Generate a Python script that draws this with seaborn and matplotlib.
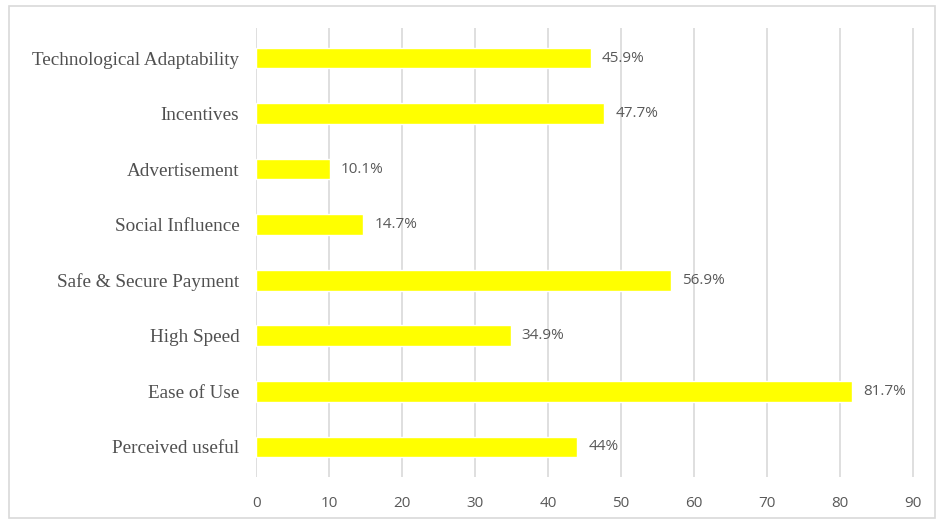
import matplotlib
matplotlib.use("Agg")
import matplotlib.pyplot as plt
import seaborn as sns
import pandas as pd
from matplotlib.patches import Rectangle

categories = ["Technological Adaptability", "Incentives", "Advertisement", "Social Influence",
              "Safe & Secure Payment", "High Speed", "Ease of Use", "Perceived useful"]
values = [45.9, 47.7, 10.1, 14.7, 56.9, 34.9, 81.7, 44]
value_labels = ["45.9%", "47.7%", "10.1%", "14.7%", "56.9%", "34.9%", "81.7%", "44%"]
xticks = [0, 10, 20, 30, 40, 50, 60, 70, 80, 90]

df = pd.DataFrame({"cat": categories, "val": values})

sns.set_style("white")
fig = plt.figure(figsize=(9.38, 5.2), dpi=100)
ax = fig.add_axes([0.273, 0.083, 0.701, 0.863])

sns.barplot(data=df, x="val", y="cat", orient="h", color="#FFFF00", saturation=1,
            width=0.37, ax=ax, zorder=3)

for i, (v, lab) in enumerate(zip(values, value_labels)):
    ax.text(v + 1.5, i, lab, va="center", ha="left", fontsize=11, color="#595959",
            family="Open Sans")

ax.set_xlim(0, 90.1)
ax.set_ylim(7.54, -0.54)
ax.set_xticks(xticks)
ax.set_xticklabels([str(t) for t in xticks], fontsize=11, color="#595959", family="Open Sans")
ax.set_yticks(range(len(categories)))
ax.set_yticklabels(categories, fontsize=13.8, color="#505050", family="Liberation Serif")
ax.set_xlabel("")
ax.set_ylabel("")
ax.xaxis.grid(True, color="#D9D9D9", linewidth=1.2, zorder=0)
ax.yaxis.grid(False)
for s in ax.spines.values():
    s.set_visible(False)
ax.tick_params(axis="both", length=0)
ax.tick_params(axis="x", pad=14)
ax.tick_params(axis="y", pad=12)

fig.patches.append(Rectangle((9 / 938, 2 / 520), 926 / 938, 512 / 520, transform=fig.transFigure,
                             fill=False, edgecolor="#D9D9D9", linewidth=1.2))

fig.savefig("out.png", dpi=100)
